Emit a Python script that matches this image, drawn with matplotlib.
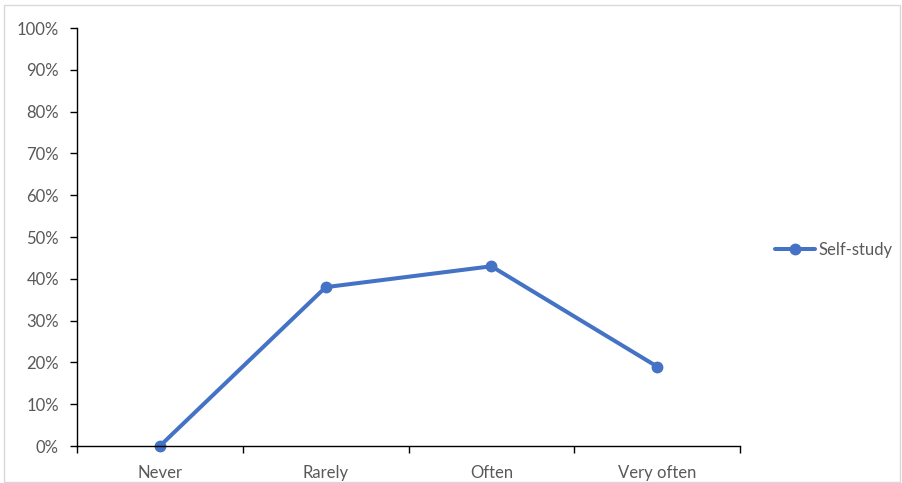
import matplotlib
matplotlib.use("Agg")
from matplotlib import pyplot as plt
from matplotlib.patches import Rectangle
from matplotlib.ticker import FixedLocator, PercentFormatter

categories = ["Never", "Rarely", "Often", "Very often"]
self_study = [0, 38, 43, 19]
series_name = "Self-study"

plt.rcParams['font.family'] = ['Lato', 'DejaVu Sans']
text_color = '#595959'
line_color = '#4472C4'

fig = plt.figure(figsize=(9.03, 4.83), dpi=100)
ax = fig.add_axes([0.0853, 0.0766, 0.7342, 0.8654])

x = list(range(len(categories)))
ax.plot(x, self_study, color=line_color, linewidth=2.9, marker='o',
        markersize=7.5, label=series_name, solid_capstyle='round', clip_on=False)

ax.set_xlim(-0.5, len(categories) - 0.5)
ax.set_ylim(0, 100)
ax.yaxis.set_major_locator(FixedLocator(range(0, 101, 10)))
ax.yaxis.set_major_formatter(PercentFormatter(decimals=0))

# category labels centred, tick marks between categories
ax.set_xticks(x)
ax.set_xticklabels(categories)
ax.tick_params(axis='x', which='major', length=0, pad=14,
               labelsize=12, labelcolor=text_color)
ax.set_xticks([i - 0.5 for i in range(len(categories) + 1)], minor=True)
ax.tick_params(axis='x', which='minor', length=5, width=1, direction='out', color='black')
ax.tick_params(axis='y', length=5, width=1, direction='out', color='black',
               labelsize=12, labelcolor=text_color, pad=8)

for side in ['top', 'right']:
    ax.spines[side].set_visible(False)
for side in ['left', 'bottom']:
    ax.spines[side].set_color('black')
    ax.spines[side].set_linewidth(1)

leg = ax.legend(loc='center left', bbox_to_anchor=(0.842, 0.482),
                bbox_transform=fig.transFigure, frameon=False,
                fontsize=12, handlelength=2.4, handletextpad=0.2)
for t in leg.get_texts():
    t.set_color(text_color)

fig.patches.append(Rectangle((0.004, 0.003), 0.993, 0.987, transform=fig.transFigure,
                             fill=False, edgecolor='#D9D9D9', linewidth=1))

fig.savefig("out.png", dpi=100)
